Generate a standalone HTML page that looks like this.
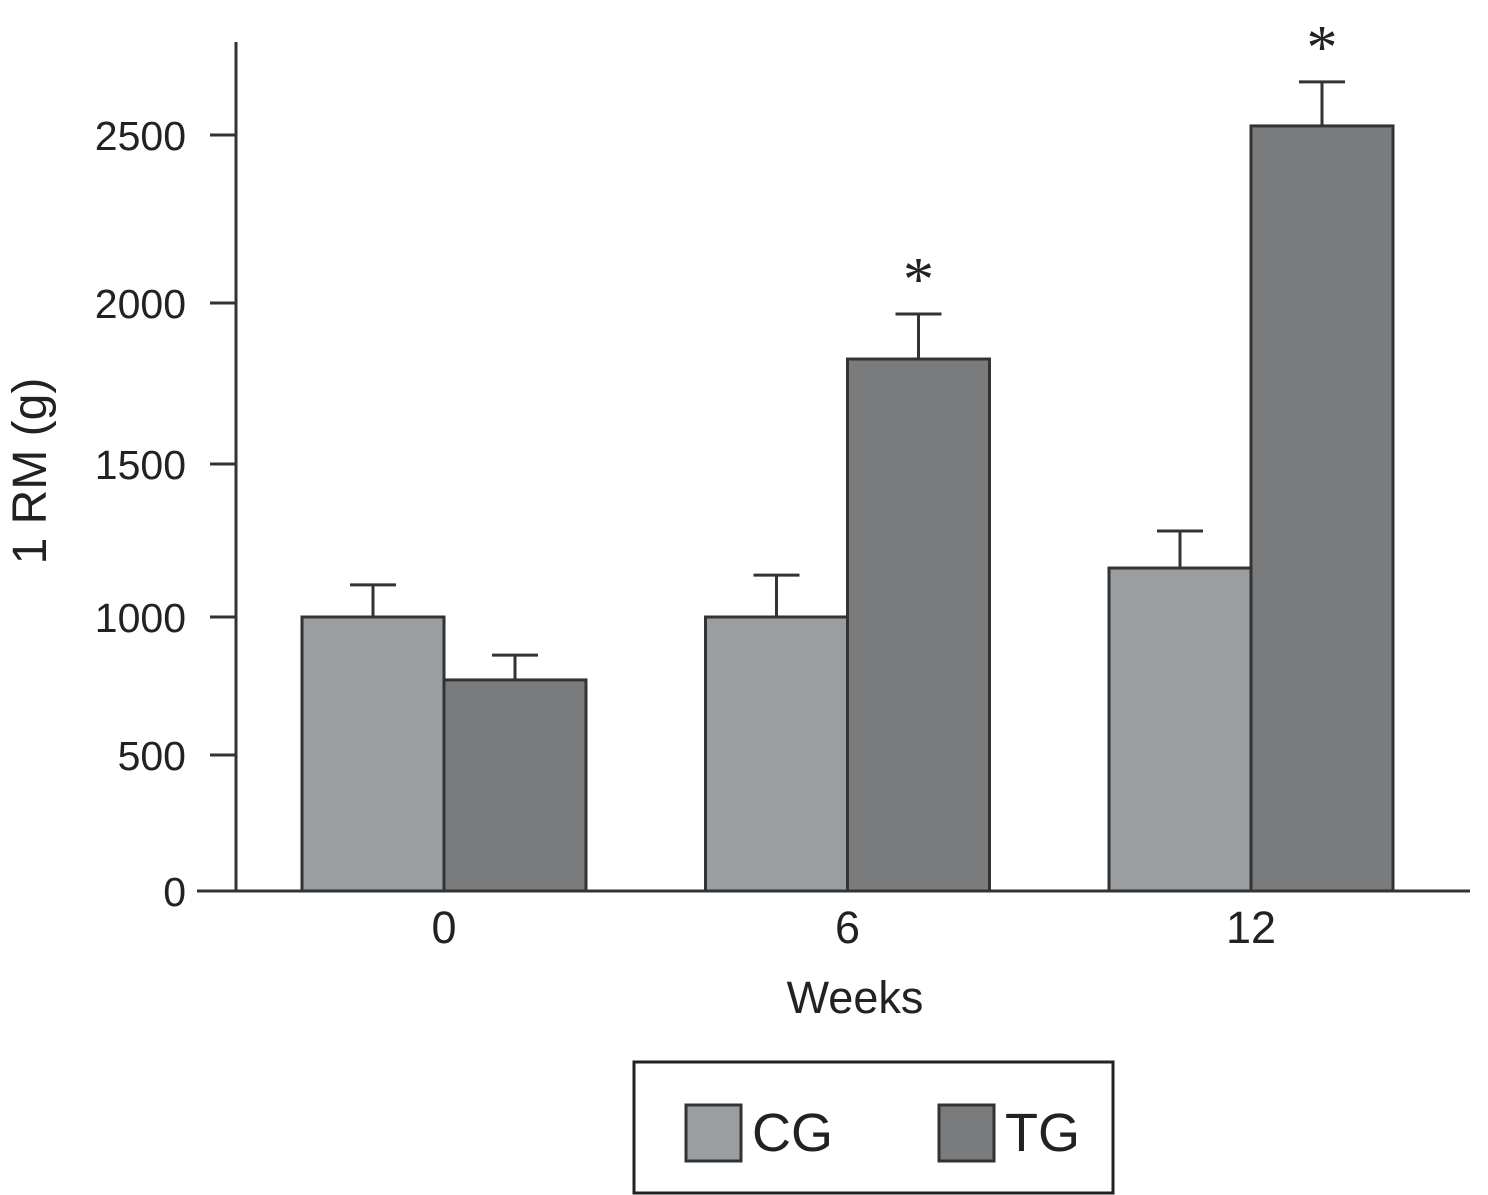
<!DOCTYPE html>
<html><head><meta charset="utf-8"><style>
html,body{margin:0;padding:0;background:#fff;}
svg{display:block;font-family:"Liberation Sans",sans-serif;}
</style></head><body>
<svg id="chart" width="1488" height="1195" viewBox="0 0 1488 1195">
<g id="axes"></g>
<g id="bars"></g>
<text x="0" y="0" transform="translate(46,471) rotate(-90)" text-anchor="middle" font-size="48" fill="#222">1 RM (g)</text>
<text x="855" y="1013" text-anchor="middle" font-size="45" fill="#222">Weeks</text>
<g>
<rect x="634" y="1062" width="479" height="131" fill="#fff" stroke="#222" stroke-width="3"/>
<rect x="686" y="1105" width="55" height="56" fill="#9b9ea0" stroke="#333" stroke-width="3"/>
<text x="752" y="1151" font-size="54" fill="#222">CG</text>
<rect x="939" y="1105" width="55" height="56" fill="#7a7b7d" stroke="#333" stroke-width="3"/>
<text x="1005" y="1151" font-size="54" fill="#222">TG</text>
</g>
</svg>
<script>
const categories = ["0", "6", "12"];
const cgValues = [1000, 1000, 1160];
const cgErrors = [105, 137, 121];
const tgValues = [772, 1826, 2527];
const tgErrors = [90, 140, 131];
const tgSignificant = [false, true, true];
const yTicks = [0, 500, 1000, 1500, 2000, 2500];
// measured pixel positions of the (non-uniform) printed axis
const tickPx = [891, 755, 617, 464, 303, 135];
function yScale(v){
  for(let i=0;i<yTicks.length-1;i++){
    if(v<=yTicks[i+1]||i===yTicks.length-2){
      const t=(v-yTicks[i])/(yTicks[i+1]-yTicks[i]);
      return tickPx[i]+t*(tickPx[i+1]-tickPx[i]);
    }
  }
}
const groupStart=302, groupStep=403.5, barW=142;
function xScale(i){return groupStart+i*groupStep;}
const NS="http://www.w3.org/2000/svg";
function mk(tag,attrs,parent){const e=document.createElementNS(NS,tag);for(const k in attrs)e.setAttribute(k,attrs[k]);parent.appendChild(e);return e;}
const axes=document.getElementById('axes'), bars=document.getElementById('bars');
const yl=mk('line',{x1:236,y1:42,x2:236,y2:891,stroke:'#333','stroke-width':3},axes);


yTicks.forEach(v=>{
  const y=yScale(v);
  const t=mk('line',{x1:210,y1:y,x2:236,y2:y,stroke:'#333','stroke-width':3},axes);
  
  
  const l=mk('text',{x:186,y:y+15,'text-anchor':'end','font-size':41,fill:'#222'},axes);
  
  
  l.textContent=v;
});
function drawBar(x,v,err,fill,name){
  const top=yScale(v), et=yScale(v+err), cx=x+barW/2;
  const ln=mk('line',{x1:cx,y1:top,x2:cx,y2:et,stroke:'#333','stroke-width':3},bars);
  
  
  const cap=mk('line',{x1:cx-23,y1:et,x2:cx+23,y2:et,stroke:'#333','stroke-width':3},bars);
  
  
  const r=mk('rect',{x:x,y:top,width:barW,height:yScale(0)-top,fill:fill,stroke:'#333','stroke-width':3},bars);
  
  
  return et;
}
categories.forEach((c,i)=>{
  const x=xScale(i);
  drawBar(x,cgValues[i],cgErrors[i],'#9b9ea0','bar-cg-week-'+c);
  const et=drawBar(x+barW,tgValues[i],tgErrors[i],'#7a7b7d','bar-tg-week-'+c);
  if(tgSignificant[i]){
    const s=mk('text',{x:x+barW*1.5,y:et-14,'text-anchor':'middle','font-size':62,'font-family':'Liberation Serif, serif',fill:'#222'},bars);
    
    
    s.textContent='*';
  }
  const l=mk('text',{x:x+barW,y:943,'text-anchor':'middle','font-size':45,fill:'#222'},axes);
  
  
  l.textContent=c;
});
const xl=mk('line',{x1:197,y1:891,x2:1470,y2:891,stroke:'#333','stroke-width':3},axes);


</script>
</body></html>
